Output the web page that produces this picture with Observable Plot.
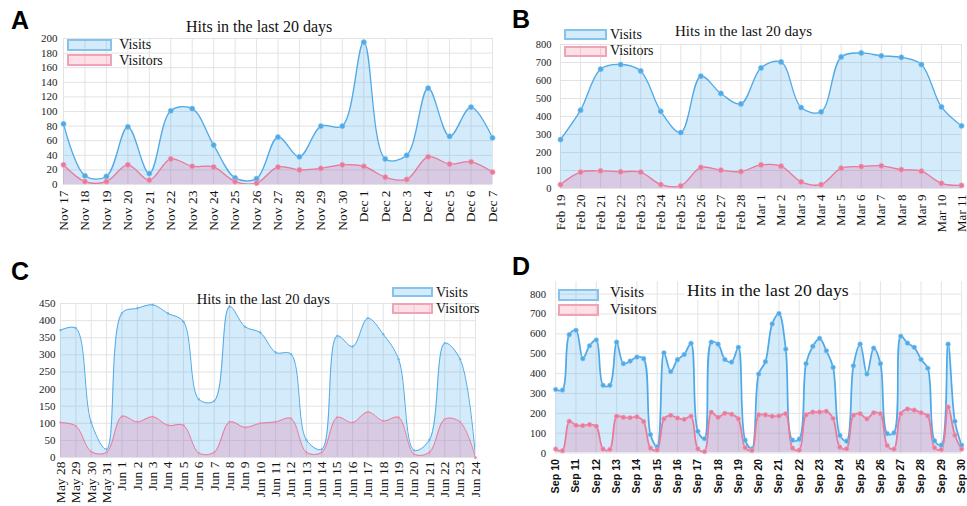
<!DOCTYPE html>
<html><head><meta charset="utf-8">
<script src="https://cdn.jsdelivr.net/npm/d3@7"></script>
<script src="https://cdn.jsdelivr.net/npm/@observablehq/plot@0.6"></script>
<style>
html,body{margin:0;padding:0;background:#fff;}
body{width:967px;height:506px;overflow:hidden;position:relative;}
.panel{position:absolute;}
.letter{position:absolute;font-family:"Liberation Sans",Arial,sans-serif;font-weight:bold;font-size:25px;line-height:1;color:#000;}
.title{position:absolute;font-family:"Liberation Serif","Times New Roman",serif;white-space:nowrap;line-height:1;color:#111;}
.leg{position:absolute;font-family:"Liberation Serif","Times New Roman",serif;font-size:14px;white-space:nowrap;line-height:1;color:#111;}
.sw{position:absolute;box-sizing:border-box;border:2px solid;}
.swb{background:rgba(54,162,235,0.22);border-color:#86c3ec;}
.swp{background:rgba(255,99,132,0.2);border-color:#eea3b7;}
</style></head><body>
<script>
// ---------- data ----------
const labelsA = ["Nov 17","Nov 18","Nov 19","Nov 20","Nov 21","Nov 22","Nov 23","Nov 24","Nov 25","Nov 26","Nov 27","Nov 28","Nov 29","Nov 30","Dec 1","Dec 2","Dec 3","Dec 4","Dec 5","Dec 6","Dec 7"];
const visitsA = [83,12,11,79,15,101,104,54,9,8,65,38,80,80,195,35,40,132,66,106,64];
const visitorsA = [27,4,4,27,6,35,25,24,4,2,24,20,22,27,25,10,7,38,28,31,17];

const labelsB = ["Feb 19","Feb 20","Feb 21","Feb 22","Feb 23","Feb 24","Feb 25","Feb 26","Feb 27","Feb 28","Mar 1","Mar 2","Mar 3","Mar 4","Mar 5","Mar 6","Mar 7","Mar 8","Mar 9","Mar 10","Mar 11"];
const visitsB = [272,435,663,689,653,429,311,624,528,470,670,703,450,426,731,753,737,729,689,453,348];
const visitorsB = [22,91,98,93,91,22,15,117,102,94,131,124,37,22,113,122,126,105,96,29,17];

const labelsC = ["May 28","May 29","May 30","May 31","Jun 1","Jun 2","Jun 3","Jun 4","Jun 5","Jun 6","Jun 7","Jun 8","Jun 9","Jun 10","Jun 11","Jun 12","Jun 13","Jun 14","Jun 15","Jun 16","Jun 17","Jun 18","Jun 19","Jun 20","Jun 21","Jun 22","Jun 23","Jun 24"];
const visitsC = [372,378,102,24,422,436,446,421,397,170,165,441,382,365,307,302,51,24,355,324,407,360,287,21,51,334,287,0];
const visitorsC = [102,92,17,15,120,104,119,94,94,13,15,104,88,100,104,114,15,15,117,102,133,107,117,10,15,112,104,0];

const labelsD = ["Sep 10","Sep 11","Sep 12","Sep 13","Sep 14","Sep 15","Sep 16","Sep 17","Sep 18","Sep 19","Sep 20","Sep 21","Sep 22","Sep 23","Sep 24","Sep 25","Sep 26","Sep 27","Sep 28","Sep 29","Sep 30"];
const visitsD = [320,317,596,618,475,540,569,341,341,558,450,463,483,475,93,32,504,410,470,496,552,110,72,558,548,471,458,532,65,21,398,460,650,702,523,65,70,450,537,577,515,431,89,60,439,548,398,528,450,98,102,588,553,532,471,427,62,40,548,160,40];
const visitorsD = [20,12,160,140,138,143,135,20,18,185,180,178,182,158,25,16,172,190,176,170,185,22,8,205,180,200,195,172,27,13,192,192,185,187,198,25,15,192,206,206,210,174,30,22,190,198,172,203,198,38,20,198,222,216,203,187,27,18,231,90,20];

const titleText = "Hits in the last 20 days";
const seriesNames = ["Visits","Visitors"];

// ---------- drawing ----------
const SERIF = "'Liberation Serif','Times New Roman',serif";
const SANS = "'Liberation Sans',Arial,sans-serif";
const GRID = "#e3e3e3";
const BLUE = "#4fa9e6", PINK = "#e9799a";

function makePanel(o) {
  const n = o.visits.length;
  const X = (d, i) => i;
  const Y = d => d;
  const marks = [
    Plot.gridY(o.yTicks, {stroke: GRID, strokeOpacity: 1}),
    Plot.gridX(o.xTicks, {stroke: GRID, strokeOpacity: 1}),
    Plot.areaY(o.visits, {x: X, y: Y, curve: "catmull-rom", fill: "rgb(54,162,235)", fillOpacity: 0.22, clip: true}),
    Plot.areaY(o.visitors, {x: X, y: Y, curve: "catmull-rom", fill: "rgb(232,105,150)", fillOpacity: 0.25, clip: true}),
    Plot.lineY(o.visits, {x: X, y: Y, curve: "catmull-rom", stroke: BLUE, strokeWidth: o.sw, clip: true}),
    Plot.lineY(o.visitors, {x: X, y: Y, curve: "catmull-rom", stroke: PINK, strokeWidth: o.sw, clip: true}),
    Plot.dot(o.visits, {x: X, y: Y, r: o.r, fill: BLUE, stroke: "#8cc8f0", strokeWidth: 0.6}),
    Plot.dot(o.visitors, {x: X, y: Y, r: o.r, fill: PINK, stroke: "#f2a8bd", strokeWidth: 0.6}),
    Plot.axisX(o.xTicks, {tickRotate: -90, tickSize: 0, tickPadding: o.xPad, tickFormat: o.xFormat, label: null,
      fontSize: o.xFont, fontFamily: o.xFamily, fontWeight: o.xWeight, fill: "#111"}),
    Plot.axisY(o.yTicks, {tickSize: 0, tickPadding: o.yPad, label: null, fontSize: o.yFont, fontFamily: SERIF, fill: "#222"})
  ];
  const svg = Plot.plot({
    width: o.width, height: o.height,
    marginLeft: o.ml, marginRight: o.mr, marginTop: o.mt, marginBottom: o.mb,
    style: {background: "transparent", fontFamily: SERIF, overflow: "visible"},
    x: {type: "linear", domain: o.xDomain},
    y: {type: "linear", domain: o.yDomain},
    marks
  });
  const div = document.createElement("div");
  div.className = "panel";
  div.style.left = o.left + "px";
  div.style.top = o.top + "px";
  div.appendChild(svg);
  document.body.appendChild(div);
}

function addText(cls, text, left, top, extra) {
  const d = document.createElement("div");
  d.className = cls;
  d.textContent = text;
  d.style.left = left + "px";
  d.style.top = top + "px";
  if (extra) Object.assign(d.style, extra);
  document.body.appendChild(d);
}
function addSwatch(cls, left, top, w, h) {
  const d = document.createElement("div");
  d.className = "sw " + cls;
  Object.assign(d.style, {left: left + "px", top: top + "px", width: w + "px", height: h + "px"});
  document.body.appendChild(d);
}

// Panel A
makePanel({visits: visitsA, visitors: visitorsA, left: 0, top: 0, width: 500, height: 250,
  ml: 63, mr: 8, mt: 38, mb: 66, xDomain: [0, 20], yDomain: [0, 200],
  xTicks: d3.range(labelsA.length), yTicks: d3.range(0, 201, 20), xFormat: i => labelsA[i],
  xFont: 13.5, xFamily: SERIF, xWeight: "normal", xPad: 6, yFont: 11, yPad: 6, r: 2.6, sw: 1.3});
// Panel B
makePanel({visits: visitsB, visitors: visitorsB, left: 490, top: 0, width: 477, height: 250,
  ml: 70, mr: 6, mt: 44, mb: 62, xDomain: [0, 20], yDomain: [0, 800],
  xTicks: d3.range(labelsB.length), yTicks: d3.range(0, 801, 100), xFormat: i => labelsB[i],
  xFont: 13, xFamily: SERIF, xWeight: "normal", xPad: 6, yFont: 10.5, yPad: 9, r: 2.6, sw: 1.3});
// Panel C
makePanel({visits: visitsC, visitors: visitorsC, left: 0, top: 255, width: 490, height: 251,
  ml: 60, mr: 15, mt: 48, mb: 49, xDomain: [0, 27], yDomain: [0, 450],
  xTicks: d3.range(labelsC.length), yTicks: d3.range(0, 451, 50), xFormat: i => labelsC[i],
  xFont: 13.5, xFamily: SERIF, xWeight: "normal", xPad: 4, yFont: 11, yPad: 5, r: 1, sw: 1});
// Panel D
makePanel({visits: visitsD, visitors: visitorsD, left: 490, top: 255, width: 490, height: 251,
  ml: 67, mr: 6, mt: 27, mb: 48, xDomain: [0, 60], yDomain: [0, 862],
  xTicks: d3.range(labelsD.length).map(d => d * 3), yTicks: d3.range(0, 801, 100), xFormat: i => labelsD[i / 3],
  xFont: 11, xFamily: SANS, xWeight: "bold", xPad: 6, yFont: 11, yPad: 10, r: 2.4, sw: 1.8});

// Panel letters
addText("letter", "A", 11, 8);
addText("letter", "B", 512, 7);
addText("letter", "C", 11, 259);
addText("letter", "D", 512, 254);

// Titles
addText("title", titleText, 186, 18.6, {fontSize: "16px"});
addText("title", titleText, 675, 24.4, {fontSize: "15px"});
addText("title", titleText, 196.7, 291.8, {fontSize: "14.6px"});
addText("title", titleText, 684, 282, {fontSize: "17.7px", background: "#fff", padding: "0 3px"});

// Legends
addSwatch("swb", 66.7, 39, 45, 11.7); addSwatch("swp", 66.7, 54, 45, 12);
addText("leg", seriesNames[0], 119.3, 37.6); addText("leg", seriesNames[1], 119.3, 54);
addSwatch("swb", 564, 29.3, 42.7, 10.7); addSwatch("swp", 564, 45.7, 42.7, 11);
addText("leg", seriesNames[0], 610, 28.3); addText("leg", seriesNames[1], 610, 44);
addSwatch("swb", 391.7, 286.7, 41.6, 10.6); addSwatch("swp", 391.7, 302.7, 41.6, 11.3);
addText("leg", seriesNames[0], 436, 285.6); addText("leg", seriesNames[1], 436, 302.3);
addSwatch("swb", 558.3, 289.3, 40.7, 11.4); addSwatch("swp", 558.3, 304.3, 40.7, 11.4);
addText("leg", seriesNames[0], 610, 284.8, {fontSize: "15px"}); addText("leg", seriesNames[1], 610, 301.8, {fontSize: "15px"});
</script>
</body></html>
